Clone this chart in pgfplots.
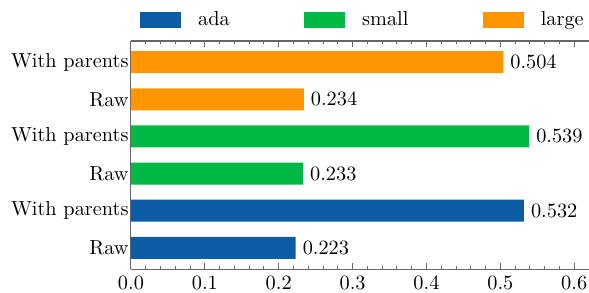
\documentclass[border=0pt]{standalone}
\usepackage{pgfplots}
\pgfplotsset{compat=1.18}
\definecolor{cblue}{HTML}{0C5DA5}
\definecolor{cgreen}{HTML}{00B945}
\definecolor{corange}{HTML}{FF9500}
\begin{document}
\begin{tikzpicture}
\useasboundingbox (-64.5pt,-11.8pt) rectangle (225.6pt,132.5pt);
\begin{axis}[
  scale only axis, width=225.6pt, height=112.3pt,
  xmin=0, xmax=0.62, ymin=-0.57, ymax=5.57,
  axis x line*=box, axis y line*=left,
  axis line style={black!60, line width=0.5pt},
  every tick/.style={black!60, line width=0.5pt},
  xtick={0,0.1,0.2,0.3,0.4,0.5,0.6}, minor x tick num=4,
  xticklabel style={/pgf/number format/.cd, fixed, fixed zerofill, precision=1},
  ytick={0,1,2,3,4,5},
  yticklabels={Raw, With parents, Raw, With parents, Raw, With parents},
  yticklabel style={inner xsep=1pt},
  tick align=inside, major tick length=3pt, minor tick length=1.5pt,
  nodes near coords={\pgfmathprintnumber[fixed,fixed zerofill,precision=3]{\pgfplotspointmeta}},
  point meta=x,
  every node near coord/.append style={black, inner xsep=3.3pt},
  legend style={at={(0.5,1)}, anchor=south, yshift=2pt, xshift=2pt, draw=none, fill=none,
    /tikz/every odd column/.append style={column sep=6.5pt},
    /tikz/every even column/.append style={column sep=34.7pt}},
  legend columns=3,
  legend image code/.code={\fill[#1,draw=none] (0pt,-4pt) rectangle (20pt,4pt);},
]
\addplot[xbar, bar width=10.8pt, fill=cblue, draw=none] coordinates {(0.223,0) (0.532,1)};
\addlegendentry{ada}
\addplot[xbar, bar width=10.8pt, fill=cgreen, draw=none] coordinates {(0.233,2) (0.539,3)};
\addlegendentry{small}
\addplot[xbar, bar width=10.8pt, fill=corange, draw=none] coordinates {(0.234,4) (0.504,5)};
\addlegendentry{large}
\end{axis}
\end{tikzpicture}
\end{document}
